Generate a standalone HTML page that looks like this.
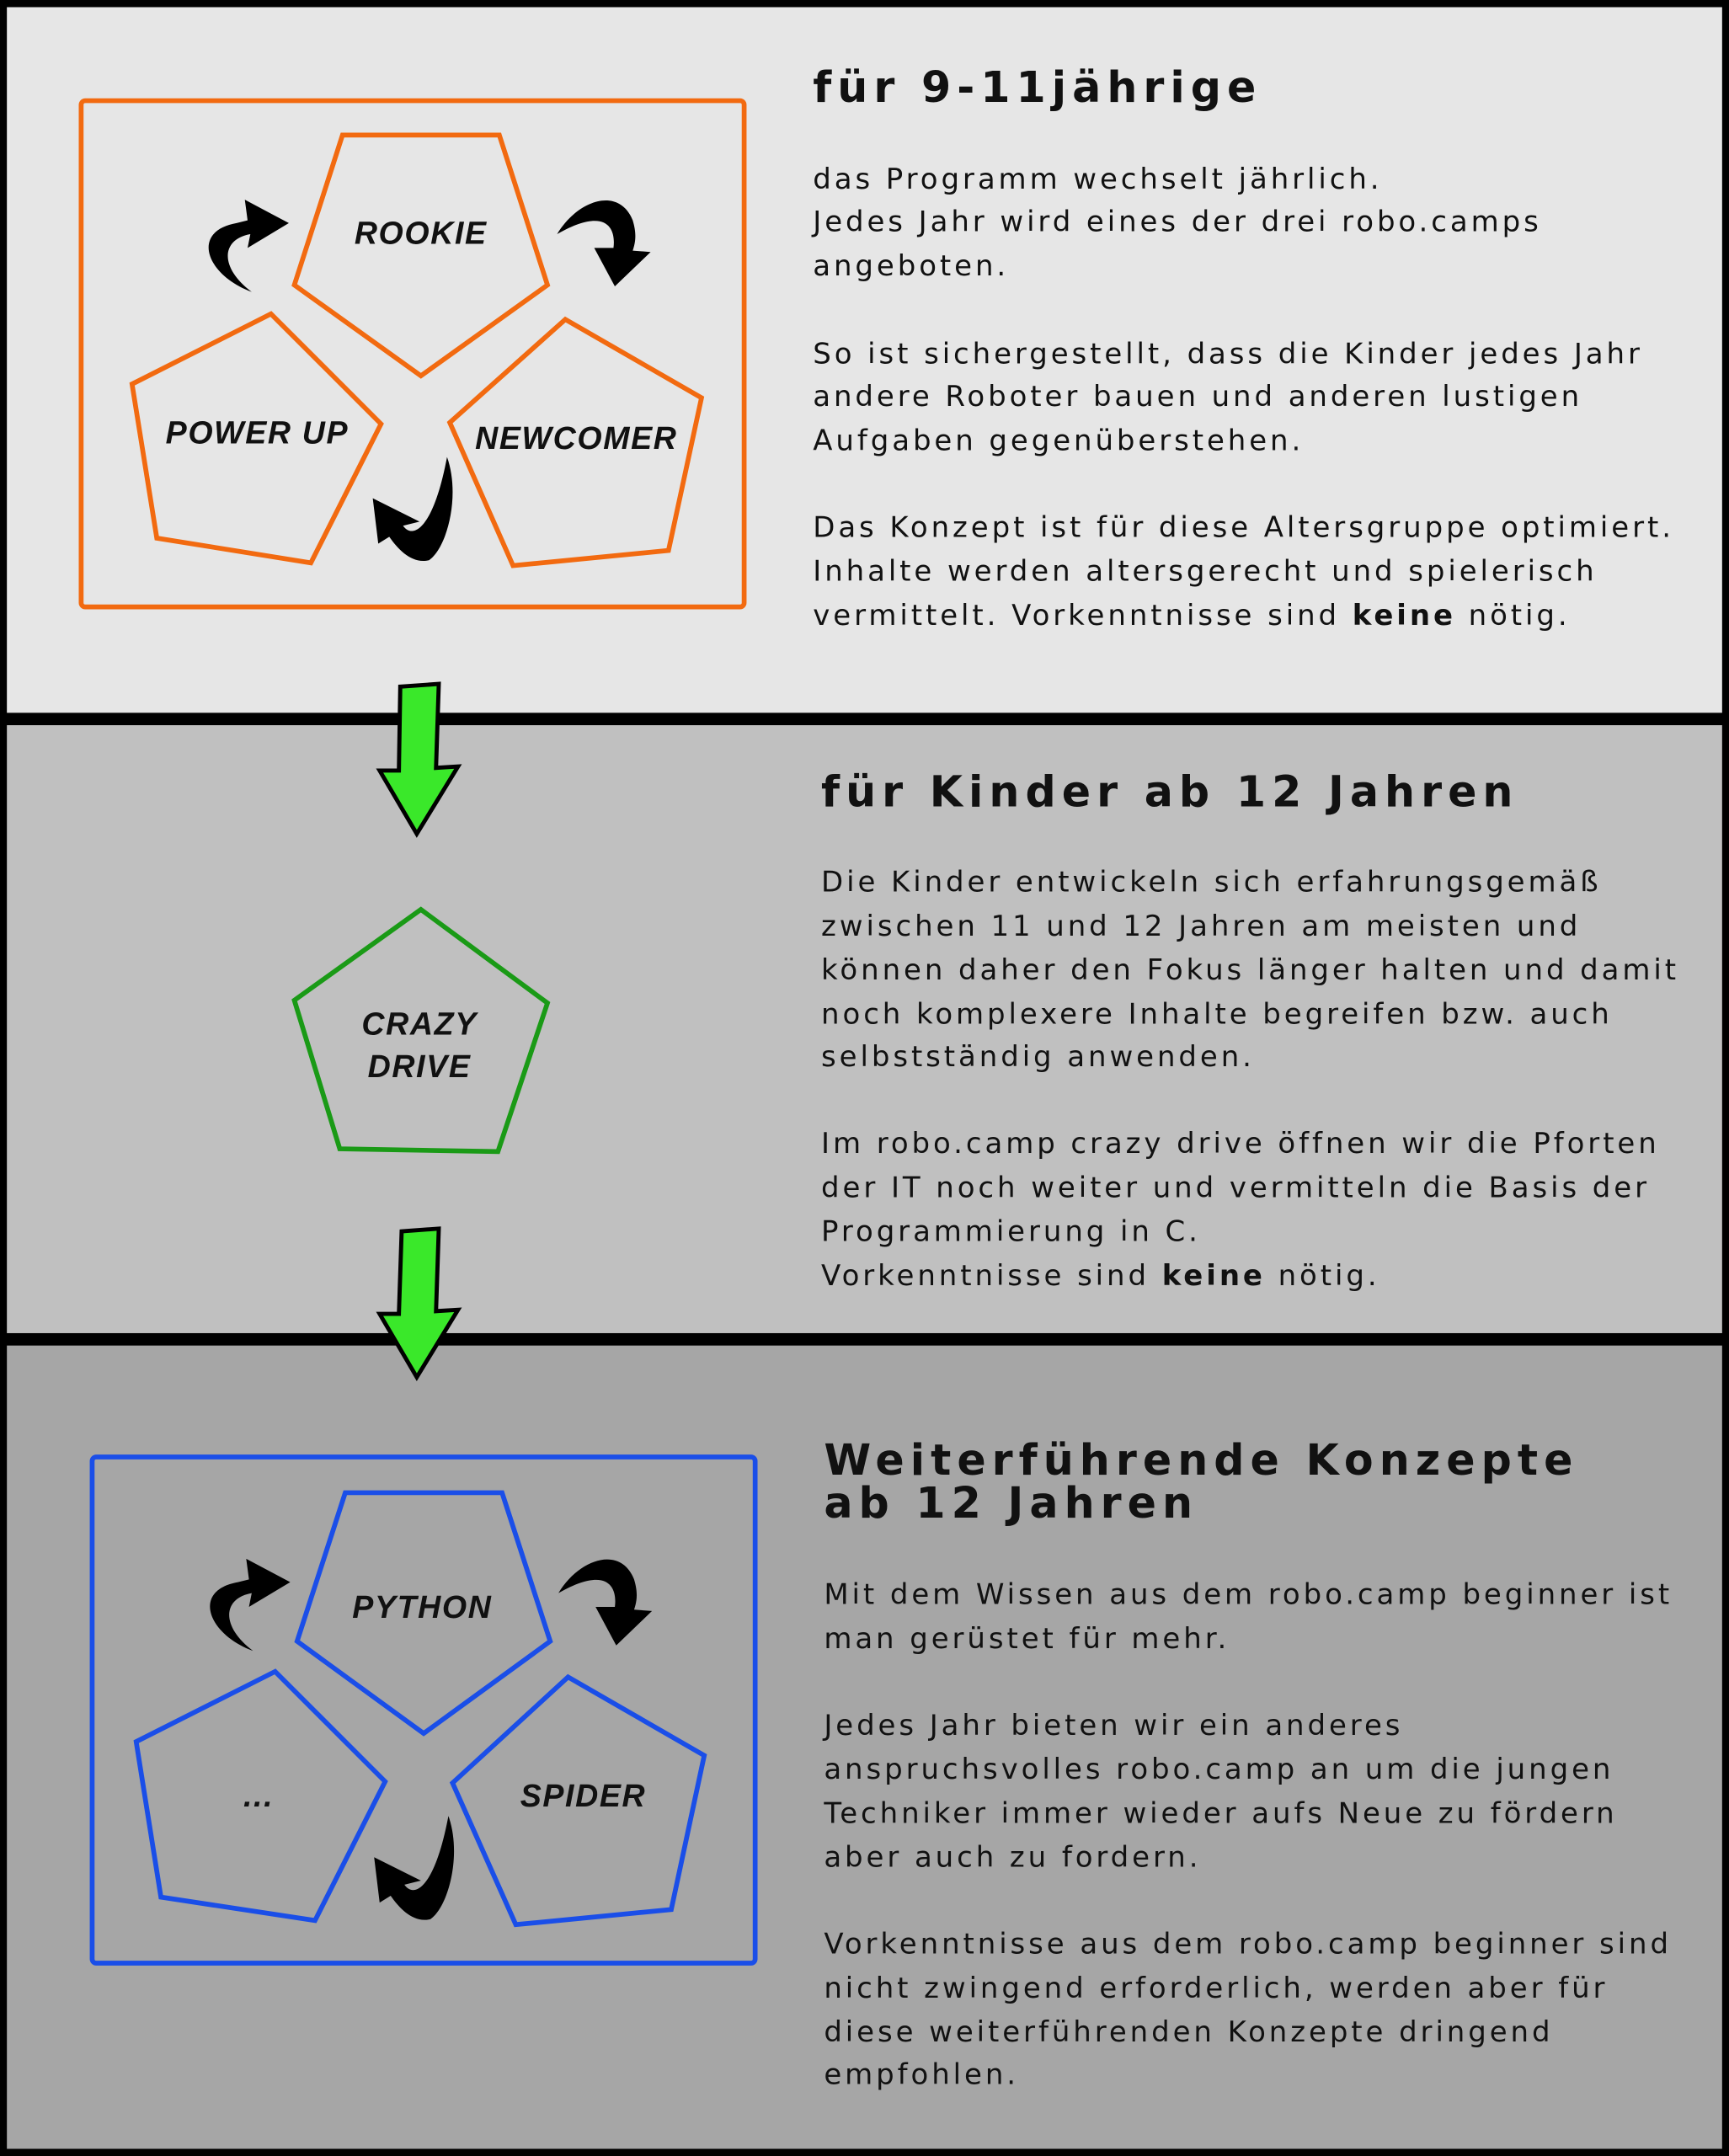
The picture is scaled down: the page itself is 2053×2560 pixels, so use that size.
<!DOCTYPE html>
<html><head><meta charset="utf-8"><style>
html,body{margin:0;padding:0;background:#000}
svg{display:block}
.t{font-family:"DejaVu Sans","Liberation Sans",sans-serif;font-size:20.8px;fill:#111;letter-spacing:2.4px}
.h{font-family:"DejaVu Sans","Liberation Sans",sans-serif;font-size:31px;font-weight:bold;fill:#111;letter-spacing:4.3px}
.l{font-family:"Liberation Sans",sans-serif;font-size:23px;font-weight:bold;font-style:italic;fill:#111;text-anchor:middle;letter-spacing:1px}
</style></head><body>
<svg width="2053" height="2560" viewBox="0 0 1257 1567" xmlns="http://www.w3.org/2000/svg">
<rect x="0" y="0" width="1257" height="1567" fill="#000"/>
<rect x="5" y="5" width="1247" height="513" fill="#e6e6e6"/>
<rect x="5" y="527" width="1247" height="442" fill="#c0c0c0"/>
<rect x="5" y="978" width="1247" height="584" fill="#a6a6a6"/>

<rect x="59" y="73" width="482" height="368" rx="3" fill="none" stroke="#f26a10" stroke-width="3.5"/>
<g fill="none" stroke="#f26a10" stroke-width="3.5" stroke-linejoin="miter">
<polygon points="249,98 363,98 398,207 306,273 214,207"/>
<polygon points="197,228 96,279 114,391 226,409 277,308"/>
<polygon points="411,232 327,307 373,411 486,400 510,289"/>
</g>
<text class="l" x="306" y="177">ROOKIE</text>
<text class="l" x="187" y="322">POWER UP</text>
<text class="l" x="419" y="326">NEWCOMER</text>

<g id="arrows" fill="#000">
<path d="M183,212 C150,200 138,168 172,162 L180,160 L178,145 L210,162 L180,180 L182,170 C160,174 160,195 183,212 Z"/>
<path d="M405,170 C420,145 450,135 460,160 C463,170 462,176 460,182 L473,183 L447,208 L432,180 L446,180 C448,165 440,150 405,170 Z"/>
<path d="M325,332 C335,360 325,398 312,407 C300,410 290,400 283,390 L275,395 L271,362 L305,379 L293,382 C300,392 315,385 325,332 Z"/>
</g>

<text class="h" x="591" y="74">für 9-11jährige</text>
<g class="t">
<text x="591" y="137">das Programm wechselt jährlich.</text>
<text x="591" y="168">Jedes Jahr wird eines der drei robo.camps</text>
<text x="591" y="200">angeboten.</text>
<text x="591" y="264">So ist sichergestellt, dass die Kinder jedes Jahr</text>
<text x="591" y="295">andere Roboter bauen und anderen lustigen</text>
<text x="591" y="327">Aufgaben gegenüberstehen.</text>
<text x="591" y="390">Das Konzept ist für diese Altersgruppe optimiert.</text>
<text x="591" y="422">Inhalte werden altersgerecht und spielerisch</text>
<text x="591" y="454">vermittelt. Vorkenntnisse sind <tspan font-weight="bold">keine</tspan> nötig.</text>
</g>

<g fill="#3ae82a" stroke="#000" stroke-width="3" stroke-linejoin="miter">
<polygon points="291,499 319,497 317,558 333,557 303,606 276,560 290,560"/>
<polygon points="292,895 319,893 317,953 333,952 303,1001 276,955 290,955"/>
</g>

<polygon points="306,661 398,729 362,837 247,835 214,727" fill="none" stroke="#1a9a16" stroke-width="3.5"/>
<text class="l" x="305" y="752">CRAZY</text>
<text class="l" x="305" y="783">DRIVE</text>

<text class="h" x="597" y="586">für Kinder ab 12 Jahren</text>
<g class="t">
<text x="597" y="648">Die Kinder entwickeln sich erfahrungsgemäß</text>
<text x="597" y="680">zwischen 11 und 12 Jahren am meisten und</text>
<text x="597" y="712">können daher den Fokus länger halten und damit</text>
<text x="597" y="744">noch komplexere Inhalte begreifen bzw. auch</text>
<text x="597" y="775">selbstständig anwenden.</text>
<text x="597" y="838">Im robo.camp crazy drive öffnen wir die Pforten</text>
<text x="597" y="870">der IT noch weiter und vermitteln die Basis der</text>
<text x="597" y="902">Programmierung in C.</text>
<text x="597" y="934">Vorkenntnisse sind <tspan font-weight="bold">keine</tspan> nötig.</text>
</g>

<rect x="67" y="1059" width="482" height="368" rx="3" fill="none" stroke="#1a4ee8" stroke-width="3.5"/>
<g fill="none" stroke="#1a4ee8" stroke-width="3.5">
<polygon points="251,1085 365,1085 400,1193 308,1260 216,1193"/>
<polygon points="200,1215 99,1266 117,1379 229,1396 280,1295"/>
<polygon points="413,1219 329,1296 375,1399 488,1388 512,1276"/>
</g>
<text class="l" x="307" y="1176">PYTHON</text>
<text class="l" x="188" y="1313">...</text>
<text class="l" x="424" y="1313">SPIDER</text>
<use href="#arrows" transform="translate(1,988)"/>

<text class="h" x="599" y="1072">Weiterführende Konzepte</text>
<text class="h" x="599" y="1103">ab 12 Jahren</text>
<g class="t">
<text x="599" y="1166">Mit dem Wissen aus dem robo.camp beginner ist</text>
<text x="599" y="1198">man gerüstet für mehr.</text>
<text x="599" y="1261">Jedes Jahr bieten wir ein anderes</text>
<text x="599" y="1293">anspruchsvolles robo.camp an um die jungen</text>
<text x="599" y="1325">Techniker immer wieder aufs Neue zu fördern</text>
<text x="599" y="1357">aber auch zu fordern.</text>
<text x="599" y="1420">Vorkenntnisse aus dem robo.camp beginner sind</text>
<text x="599" y="1452">nicht zwingend erforderlich, werden aber für</text>
<text x="599" y="1484">diese weiterführenden Konzepte dringend</text>
<text x="599" y="1515">empfohlen.</text>
</g>
</svg>
</body></html>
